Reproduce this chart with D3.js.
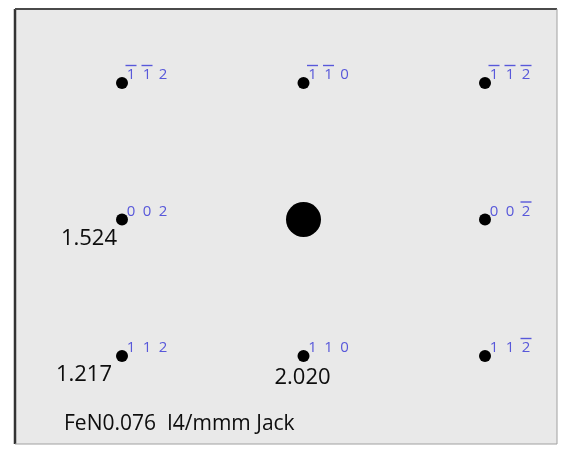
<!DOCTYPE html>
<html>
<head>
<meta charset="utf-8">
<script src="https://cdn.jsdelivr.net/npm/d3@7"></script>
<style>
  html, body { margin: 0; padding: 0; background: #ffffff; }
  svg { display: block; }
</style>
</head>
<body>
<svg id="chart" width="571" height="453"></svg>
<script>
// Reflection indices (h k l) of the spots, read top-to-bottom, left-to-right
const spotH = [-1, -1, -1, 0, 0, 0, 1, 1, 1];
const spotK = [-1, -1, -1, 0, 0, 0, 1, 1, 1];
const spotL = [2, 0, -2, 2, 0, -2, 2, 0, -2];
// Which spot is the transmitted (central) beam
const isCentral = [false, false, false, false, true, false, false, false, false];
// d-spacing annotations (Å) attached to reflections
const dSpots = ["0 0 2", "1 1 2", "1 1 0"];
const dValues = ["1.524", "1.217", "2.020"];
// Title text
const caption = "FeN0.076  I4/mmm Jack";

const svg = d3.select("#chart");

// Frame
const frame = { x0: 15, y0: 9, x1: 557, y1: 444 };

// Scales: horizontal axis along l, vertical along h (=k)
const x = d3.scaleLinear().domain([2, -2]).range([122, 485]);
const y = d3.scaleLinear().domain([-1, 1]).range([83, 356]);

svg.append("rect")
  .attr("x", frame.x0).attr("y", frame.y0)
  .attr("width", frame.x1 - frame.x0).attr("height", frame.y1 - frame.y0)
  .attr("fill", "#e9e9e9");
// Borders: darker left/top, lighter right/bottom
svg.append("line").attr("x1", frame.x0).attr("x2", frame.x0).attr("y1", frame.y0).attr("y2", frame.y1)
  .attr("stroke", "#333").attr("stroke-width", 2.5);
svg.append("line").attr("x1", frame.x0).attr("x2", frame.x1).attr("y1", frame.y0).attr("y2", frame.y0)
  .attr("stroke", "#4a4a4a").attr("stroke-width", 2);
svg.append("line").attr("x1", frame.x1).attr("x2", frame.x1).attr("y1", frame.y0).attr("y2", frame.y1)
  .attr("stroke", "#a0a0a0").attr("stroke-width", 1);
svg.append("line").attr("x1", frame.x0).attr("x2", frame.x1).attr("y1", frame.y1).attr("y2", frame.y1)
  .attr("stroke", "#a0a0a0").attr("stroke-width", 1);

const defs = svg.append("defs");
defs.append("filter").attr("id", "soft")
  .append("feGaussianBlur").attr("stdDeviation", 0.7);
defs.append("filter").attr("id", "softText")
  .append("feGaussianBlur").attr("stdDeviation", 0.35);

const spots = spotH.map((h, i) => ({ h, k: spotK[i], l: spotL[i], central: isCentral[i] }));

// Spots
svg.append("g").selectAll("circle").data(spots).join("circle")
  .attr("cx", d => x(d.l))
  .attr("cy", d => y(d.h))
  .attr("r", d => d.central ? 17.5 : 6)
  .attr("fill", "#050505")
  .attr("filter", "url(#soft)");

// hkl labels (blue, with overbars for negatives)
const blue = "#5858da";
const labG = svg.append("g").attr("filter", "url(#softText)");
spots.filter(d => !d.central).forEach(d => {
  const cx = x(d.l), cy = y(d.h);
  const idx = [d.h, d.k, d.l];
  idx.forEach((v, j) => {
    const tx = cx + 9 + j * 16;
    const base = cy - 4;
    labG.append("text")
      .attr("x", tx).attr("y", base)
      .attr("text-anchor", "middle")
      .attr("font-family", "Open Sans, sans-serif")
      .attr("font-size", 15)
      .attr("fill", blue)
      .text(Math.abs(v));
    if (v < 0) {
      labG.append("line")
        .attr("x1", tx - 5.5).attr("x2", tx + 5.5)
        .attr("y1", base - 13.5).attr("y2", base - 13.5)
        .attr("stroke", blue).attr("stroke-width", 1.4);
    }
  });
});

// d-spacing annotations
const place = {
  "0 0 2": { dx: -5, dy: 25, anchor: "end" },
  "1 1 2": { dx: -10, dy: 25, anchor: "end" },
  "1 1 0": { dx: -1, dy: 28, anchor: "middle" }
};
const txtG = svg.append("g").attr("filter", "url(#softText)");
dSpots.forEach((key, i) => {
  const [h, k, l] = key.split(" ").map(Number);
  const p = place[key];
  txtG.append("text")
    .attr("x", x(l) + p.dx).attr("y", y(h) + p.dy)
    .attr("text-anchor", p.anchor)
    .attr("font-family", "Open Sans, sans-serif")
    .attr("font-size", 22)
    .attr("fill", "#0a0a0a")
    .text(dValues[i]);
});

txtG.append("text")
  .attr("x", 64).attr("y", 430)
  .attr("font-family", "Open Sans, sans-serif")
  .attr("font-size", 21)
  .attr("fill", "#0a0a0a")
  .attr("xml:space", "preserve")
  .style("white-space", "pre")
  .text(caption);
</script>
</body>
</html>
